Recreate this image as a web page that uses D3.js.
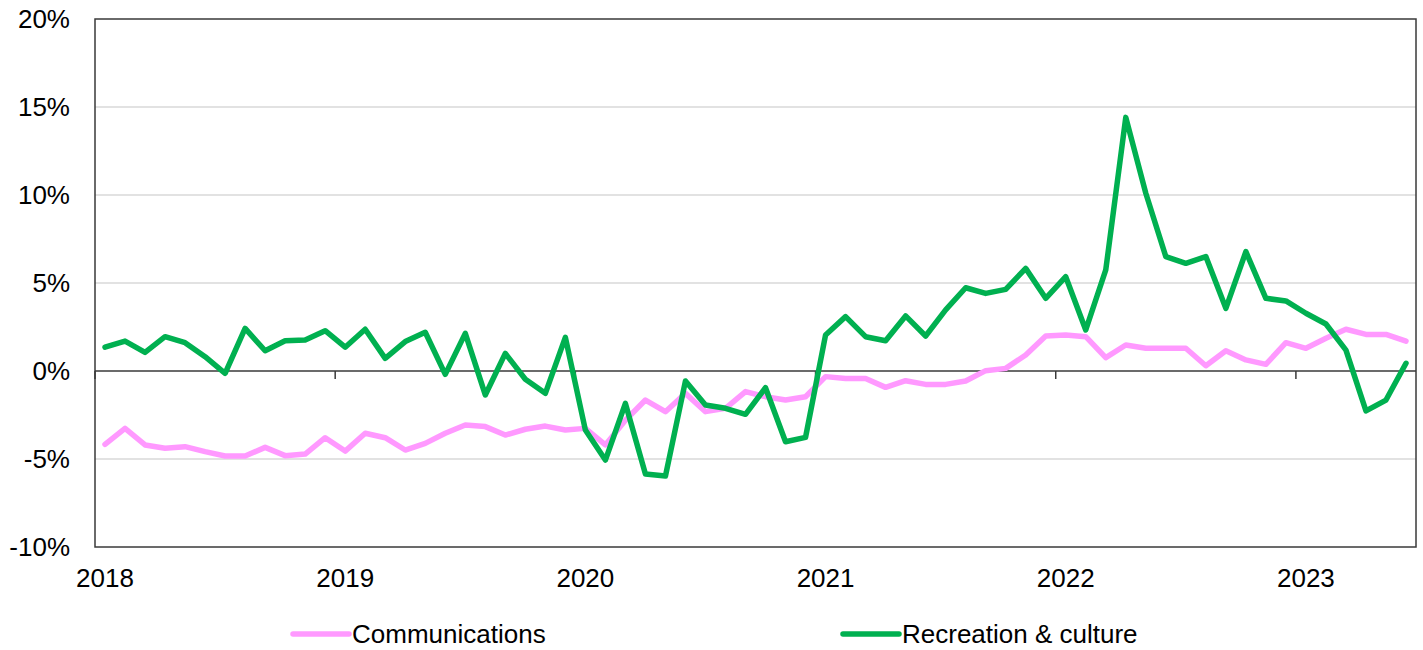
<!DOCTYPE html>
<html>
<head>
<meta charset="utf-8">
<script src="https://cdn.jsdelivr.net/npm/d3@7"></script>
<style>
  html, body { margin: 0; padding: 0; background: #fff; }
  svg { display: block; font-family: "Liberation Sans", Arial, sans-serif; }
</style>
</head>
<body>
<svg id="chart" width="1423" height="650"></svg>
<script>
// Monthly year-on-year price change (%), Jan 2018 – Jun 2023
const years = [2018, 2019, 2020, 2021, 2022, 2023];
const months = [];
years.forEach(yr => {
  for (let m = 1; m <= 12; m++) {
    if (yr === 2023 && m > 6) break;
    months.push(`${yr}-${String(m).padStart(2, "0")}`);
  }
});

const communications = [
  -4.17, -3.26, -4.20, -4.39, -4.30, -4.58, -4.83, -4.83, -4.34, -4.81, -4.72, -3.79,
  -4.55, -3.54, -3.79, -4.49, -4.11, -3.54, -3.07, -3.16, -3.64, -3.31, -3.13, -3.35,
  -3.26, -4.20, -2.80, -1.65, -2.31, -1.27, -2.31, -2.12, -1.17, -1.46, -1.65, -1.46,
  -0.32, -0.42, -0.42, -0.93, -0.55, -0.76, -0.76, -0.57, 0.02, 0.15, 0.91, 1.99,
  2.05, 1.95, 0.76, 1.48, 1.29, 1.29, 1.29, 0.30, 1.15, 0.63, 0.38, 1.61,
  1.29, 1.86, 2.37, 2.08, 2.08, 1.70
];

const recreation = [
  1.35, 1.70, 1.06, 1.95, 1.61, 0.81, -0.13, 2.42, 1.15, 1.72, 1.76, 2.29,
  1.35, 2.37, 0.72, 1.67, 2.20, -0.19, 2.14, -1.36, 1.00, -0.47, -1.27, 1.91,
  -3.35, -5.06, -1.84, -5.85, -5.97, -0.57, -1.93, -2.12, -2.46, -0.95, -4.02, -3.77,
  2.05, 3.09, 1.95, 1.72, 3.13, 1.99, 3.47, 4.73, 4.41, 4.64, 5.83, 4.13,
  5.36, 2.33, 5.74, 14.41, 10.10, 6.50, 6.12, 6.50, 3.56, 6.78, 4.13, 3.98,
  3.28, 2.67, 1.19, -2.27, -1.65, 0.44
];

const yTicks = [-10, -5, 0, 5, 10, 15, 20];

const seriesNames = ["Communications", "Recreation & culture"];
const seriesColors = ["#ff99ff", "#00b050"];

const svg = d3.select("#chart");
const plot = { left: 95, right: 1416, top: 19, bottom: 547 };
const fontSize = 26;

const x = d3.scaleBand().domain(months).range([plot.left, plot.right]).padding(0);
const y = d3.scaleLinear().domain([-10, 20]).range([plot.bottom, plot.top]);
const cx = d => x(d) + x.bandwidth() / 2;

// gridlines
svg.append("g")
  .selectAll("line")
  .data(yTicks.filter(v => v !== 0 && v !== -10 && v !== 20))
  .join("line")
  .attr("x1", plot.left).attr("x2", plot.right)
  .attr("y1", d => y(d)).attr("y2", d => y(d))
  .attr("stroke", "#d9d9d9").attr("stroke-width", 1.5);

// y axis labels
const yAxis = d3.axisLeft(y).tickValues(yTicks).tickSize(0).tickPadding(25)
  .tickFormat(d => d + "%");
svg.append("g")
  .attr("transform", `translate(${plot.left},0)`)
  .call(yAxis)
  .call(g => g.select(".domain").remove())
  .call(g => g.selectAll("text")
    .attr("font-size", fontSize).attr("fill", "#000")
    .attr("font-family", "Liberation Sans, Arial, sans-serif"));

// zero line with year ticks
svg.append("line")
  .attr("x1", plot.left).attr("x2", plot.right)
  .attr("y1", y(0)).attr("y2", y(0))
  .attr("stroke", "#3a3a3a").attr("stroke-width", 1.5);

const januaries = months.filter(m => m.endsWith("-01"));
svg.append("g")
  .selectAll("line")
  .data(januaries)
  .join("line")
  .attr("x1", d => x(d)).attr("x2", d => x(d))
  .attr("y1", y(0)).attr("y2", y(0) + 8)
  .attr("stroke", "#3a3a3a").attr("stroke-width", 1.5);

// year labels below the plot
svg.append("g")
  .selectAll("text")
  .data(januaries)
  .join("text")
  .attr("x", d => cx(d))
  .attr("y", plot.bottom + 40)
  .attr("text-anchor", "middle")
  .attr("font-size", fontSize)
  .attr("fill", "#000")
  .text(d => d.slice(0, 4));

// plot frame
svg.append("rect")
  .attr("x", plot.left).attr("y", plot.top)
  .attr("width", plot.right - plot.left).attr("height", plot.bottom - plot.top)
  .attr("fill", "none").attr("stroke", "#3a3a3a").attr("stroke-width", 1.5);

// series lines
const line = d3.line()
  .x((d, i) => cx(months[i]))
  .y(d => y(d));

[communications, recreation].forEach((vals, k) => {
  svg.append("path")
    .datum(vals)
    .attr("d", line)
    .attr("fill", "none")
    .attr("stroke", seriesColors[k])
    .attr("stroke-width", 5.5)
    .attr("stroke-linejoin", "round")
    .attr("stroke-linecap", "round");
});

// legend
const legendX = [293, 843];
const legendY = 634;
const lg = svg.append("g");
seriesNames.forEach((name, k) => {
  lg.append("line")
    .attr("x1", legendX[k]).attr("x2", legendX[k] + 56)
    .attr("y1", legendY).attr("y2", legendY)
    .attr("stroke", seriesColors[k]).attr("stroke-width", 5.5)
    .attr("stroke-linecap", "round");
  lg.append("text")
    .attr("x", legendX[k] + 59)
    .attr("y", legendY)
    .attr("dy", "0.35em")
    .attr("font-size", fontSize)
    .attr("fill", "#000")
    .text(name);
});
</script>
</body>
</html>
